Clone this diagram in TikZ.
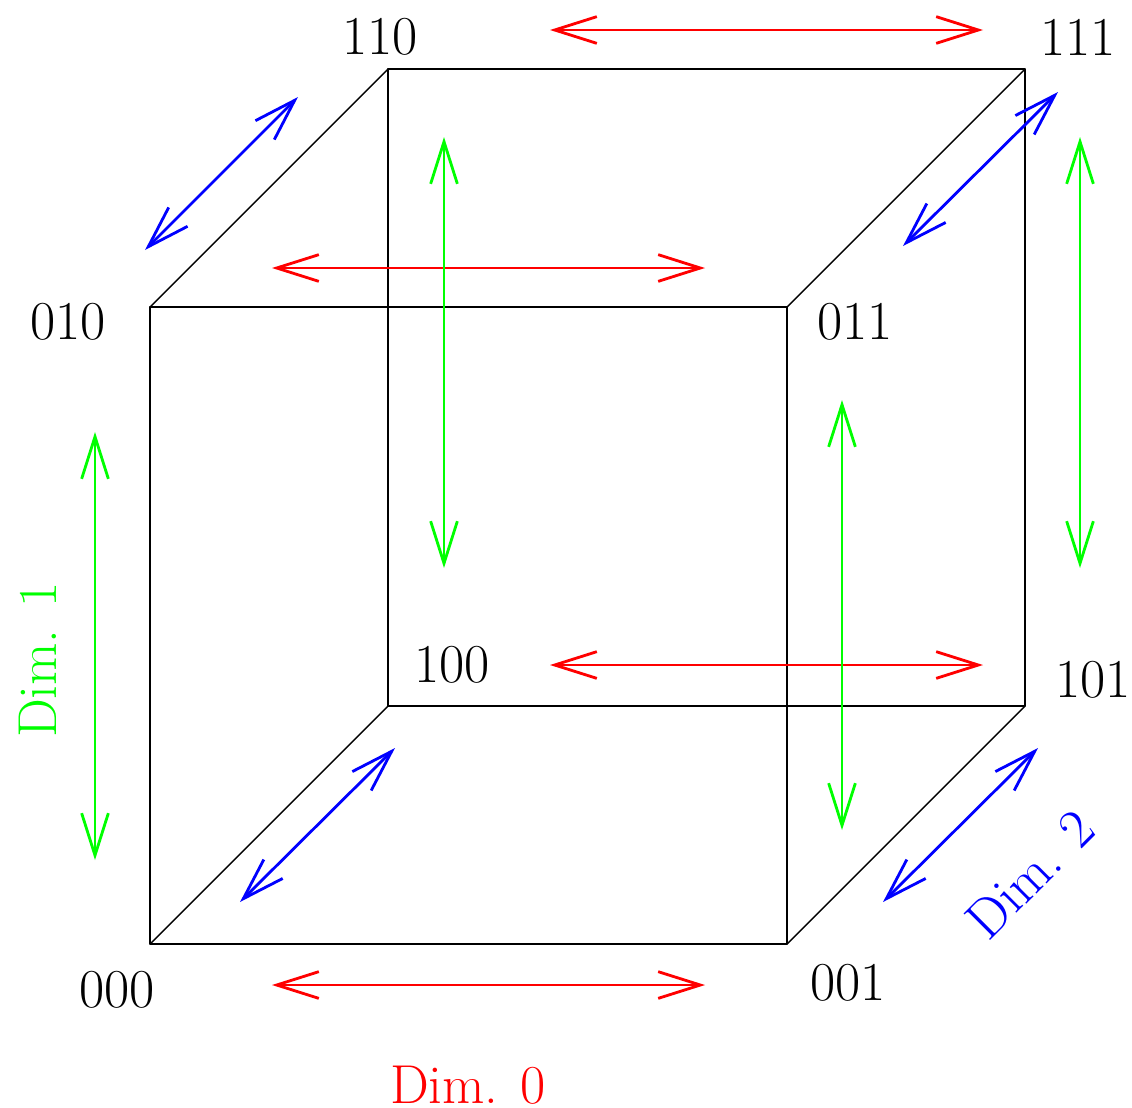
\documentclass[tikz,border=0pt]{standalone}
\usetikzlibrary{arrows.meta}
\tikzset{
  dimarrow/.style={line width=0.8pt, {Straight Barb[length=12pt,width=7.6pt]}-{Straight Barb[length=12pt,width=7.6pt]}},
  corner/.style={font=\fontsize{15.6}{18}\selectfont, inner sep=0pt}
}
\begin{document}
\begin{tikzpicture}[line cap=round, line join=round]
  \useasboundingbox (-1.50,-1.63) rectangle (9.82,9.44);
  % Cube corners (front face, then back face shifted up right)
  \coordinate (c000) at (0,0);
  \coordinate (c001) at (6.37,0);
  \coordinate (c010) at (0,6.37);
  \coordinate (c011) at (6.37,6.37);
  \coordinate (c100) at (2.38,2.38);
  \coordinate (c101) at (8.75,2.38);
  \coordinate (c110) at (2.38,8.75);
  \coordinate (c111) at (8.75,8.75);
  % Edges
  \draw[line width=0.4pt] (c000) -- (c001) -- (c011) -- (c010) -- cycle;
  \draw[line width=0.4pt] (c100) -- (c101) -- (c111) -- (c110) -- cycle;
  \draw[line width=0.4pt] (c000) -- (c100) (c001) -- (c101) (c010) -- (c110) (c011) -- (c111);
  % Corner labels
  \node[corner] (l000) at (-0.33,-0.46) {000};
  \node[corner] (l001) at (6.98,-0.39) {001};
  \node[corner] (l010) at (-0.82,6.22) {010};
  \node[corner] (l011) at (7.05,6.22) {011};
  \node[corner] (l100) at (3.02,2.79) {100};
  \node[corner] (l101) at (9.43,2.64) {101};
  \node[corner] (l110) at (2.30,9.07) {110};
  \node[corner] (l111) at (9.28,9.07) {111};
  % Dimension 0 arrows
  \coordinate (r1a) at (1.22,-0.41); \coordinate (r1b) at (5.55,-0.41);
  \coordinate (r2a) at (1.22,6.76);  \coordinate (r2b) at (5.55,6.76);
  \coordinate (r3a) at (4.00,9.14);  \coordinate (r3b) at (8.33,9.14);
  \coordinate (r4a) at (4.00,2.79);  \coordinate (r4b) at (8.33,2.79);
  \draw[dimarrow, red] (r1a) -- (r1b);
  \draw[dimarrow, red] (r2a) -- (r2b);
  \draw[dimarrow, red] (r3a) -- (r3b);
  \draw[dimarrow, red] (r4a) -- (r4b);
  % Dimension 1 arrows
  \coordinate (g1a) at (-0.55,5.12); \coordinate (g1b) at (-0.55,0.84);
  \coordinate (g2a) at (2.94,8.07);  \coordinate (g2b) at (2.94,3.76);
  \coordinate (g3a) at (6.92,5.44);  \coordinate (g3b) at (6.92,1.14);
  \coordinate (g4a) at (9.30,8.07);  \coordinate (g4b) at (9.30,3.76);
  \draw[dimarrow, green] (g1a) -- (g1b);
  \draw[dimarrow, green] (g2a) -- (g2b);
  \draw[dimarrow, green] (g3a) -- (g3b);
  \draw[dimarrow, green] (g4a) -- (g4b);
  % Dimension 2 arrows
  \coordinate (b1a) at (-0.05,6.94); \coordinate (b1b) at (1.48,8.47);
  \coordinate (b2a) at (0.90,0.42);  \coordinate (b2b) at (2.45,1.96);
  \coordinate (b3a) at (7.53,6.98);  \coordinate (b3b) at (9.08,8.52);
  \coordinate (b4a) at (7.33,0.42);  \coordinate (b4b) at (8.88,1.96);
  \draw[dimarrow, blue] (b1a) -- (b1b);
  \draw[dimarrow, blue] (b2a) -- (b2b);
  \draw[dimarrow, blue] (b3a) -- (b3b);
  \draw[dimarrow, blue] (b4a) -- (b4b);
  % Dimension names
  \node[corner, red] (dim0) at (3.18,-1.41) {Dim. 0};
  \node[corner, green, rotate=90] (dim1) at (-1.12,2.84) {Dim. 1};
  \node[corner, blue, rotate=45] (dim2) at (8.80,0.70) {Dim. 2};
\end{tikzpicture}
\end{document}
